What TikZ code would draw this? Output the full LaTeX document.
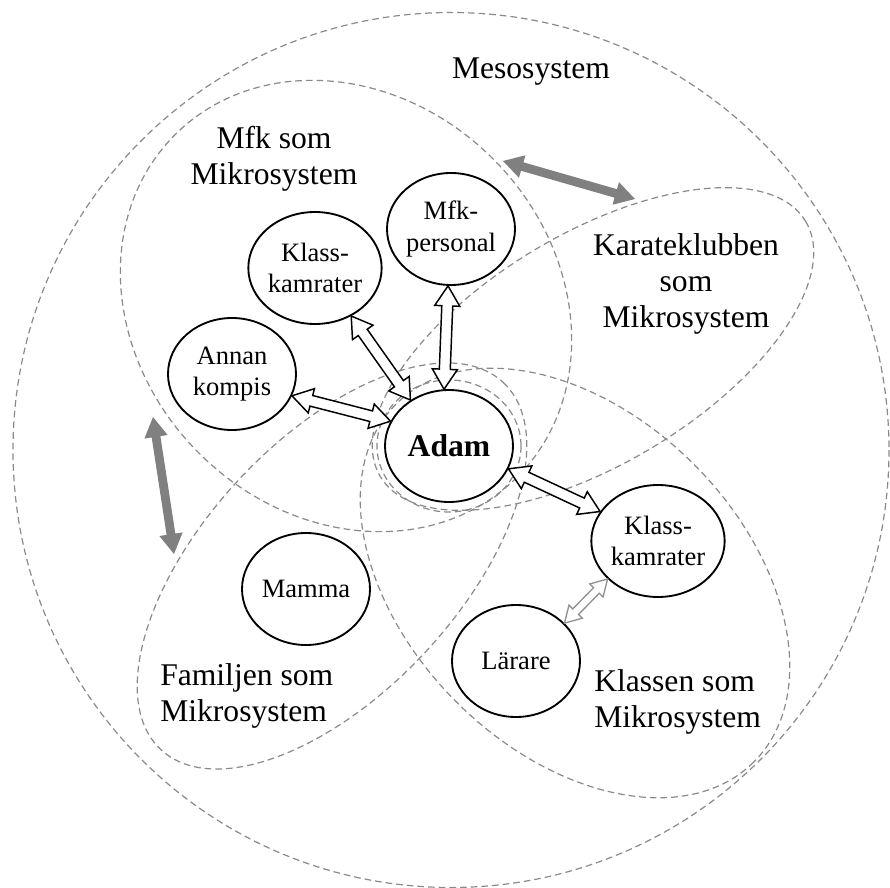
\documentclass[tikz,border=0pt]{standalone}
\usepackage{fontspec}
\setmainfont{Liberation Serif}
\usetikzlibrary{calc,shapes.geometric}

\definecolor{zonegray}{RGB}{138,138,138}
\definecolor{linkgray}{RGB}{128,128,128}
\definecolor{pairgray}{RGB}{145,145,145}

\newcommand\labelfont{\fontsize{23.7pt}{27pt}\selectfont}
\newcommand\personfont{\fontsize{19.9pt}{23.3pt}\selectfont}

% Double-headed arrow drawn as one closed outline between two points.
% #1 style, #2 start, #3 end, #4 half shaft width, #5 half head width, #6 head length
\newcommand\twowayarrow[6]{%
  \path let \p1=(#2), \p2=(#3) in
    \pgfextra{%
      \pgfmathparse{atan2(\y2-\y1,\x2-\x1)}\xdef\twaang{\pgfmathresult}%
      \pgfmathparse{veclen(\x2-\x1,\y2-\y1)}\xdef\twalen{\pgfmathresult}%
      \xdef\twax{\x1}\xdef\tway{\y1}};
  \draw[#1, shift={(\twax,\tway)}, rotate=\twaang]
    (0pt,0pt) -- (#6,#5) -- (#6,#4) -- ({\twalen pt-#6},#4) -- ({\twalen pt-#6},#5)
    -- (\twalen pt,0pt) -- ({\twalen pt-#6},-#5) -- ({\twalen pt-#6},-#4)
    -- (#6,-#4) -- (#6,-#5) -- cycle;
}

\tikzset{
  zone/.style={draw=zonegray, line width=0.9pt, dash pattern=on 5pt off 3pt},
  person/.style={ellipse, draw=black, line width=1.4pt, fill=white,
    minimum width=96pt, minimum height=84pt, inner sep=0pt, align=center,
    font=\personfont},
  zonelabel/.style={inner sep=0pt, font=\labelfont},
  hollow/.style={draw=black, fill=white, line width=1.1pt, line join=miter},
  softhollow/.style={draw=pairgray, fill=white, line width=1pt, line join=miter},
  bridge/.style={draw=none, fill=linkgray},
}

\begin{document}
\begin{tikzpicture}[x=0.75pt, y=-0.75pt]
  \useasboundingbox (0,0) rectangle (890,888);
  \clip (0,0) rectangle (890,888);

  % Mesosystem
  \draw[zone] (451,450) ellipse [x radius=438, y radius=437.5];

  % the four microsystems
  \draw[zone, rotate around={-45:(346,306)}] (346,306) ellipse [x radius=242, y radius=208];
  \draw[zone, rotate around={31:(593,349)}] (593,349) ellipse [x radius=248, y radius=115];
  \draw[zone, rotate around={47:(332,566)}] (332,566) ellipse [x radius=251, y radius=127];
  \draw[zone, rotate around={-45:(575,583)}] (575,583) ellipse [x radius=253, y radius=168];

  % ring round the child
  \draw[zone] (449,446) ellipse [x radius=72, y radius=66];

  % people
  \node[person] (klassA) at (315,268) {Klass-\\kamrater};
  \node[person] (personal) at (451,229) {Mfk-\\personal};
  \node[person] (annan) at (232,374) {Annan\\kompis};
  \node[person, font=\labelfont\bfseries] (adam) at (449,446) {Adam};
  \node[person] (klassB) at (658,541) {Klass-\\kamrater};
  \node[person] (larare) at (516,661) {Lärare};
  \node[person] (mamma) at (306,589) {Mamma};

  % zone labels
  \node[zonelabel, anchor=base] (meso) at (531,79) {Mesosystem};
  \node[zonelabel, align=center] (mfklabel) at (274,158.6) {Mfk som\\Mikrosystem};
  \node[zonelabel, align=center] (karlabel) at (686,284) {Karateklubben\\som\\Mikrosystem};
  \node[zonelabel, align=left, anchor=west] (famlabel) at (160,695.7) {Familjen som\\Mikrosystem};
  \node[zonelabel, align=left, anchor=west] (klalabel) at (594,702) {Klassen som\\Mikrosystem};

  % ends of the links between microsystems
  \coordinate (mfkright) at (503,161);
  \coordinate (karleft) at (635,199);
  \coordinate (mfkbottom) at (153,417);
  \coordinate (famtop) at (174,554);

  % relations
  \twowayarrow{hollow}{annan.-20}{adam.157}{4.1pt}{9.4pt}{15pt}
  \twowayarrow{hollow}{klassA.-53}{adam.130}{4.1pt}{9.4pt}{15pt}
  \twowayarrow{hollow}{personal.-93}{adam.95}{4.1pt}{9.4pt}{15pt}
  \twowayarrow{hollow}{adam.-21}{klassB.153}{4.1pt}{9.4pt}{15pt}
  \twowayarrow{softhollow}{larare.38}{klassB.-143}{3pt}{7pt}{12pt}
  \twowayarrow{bridge}{mfkright}{karleft}{3.3pt}{8.8pt}{15pt}
  \twowayarrow{bridge}{mfkbottom}{famtop}{3.3pt}{8.8pt}{15pt}
\end{tikzpicture}
\end{document}
